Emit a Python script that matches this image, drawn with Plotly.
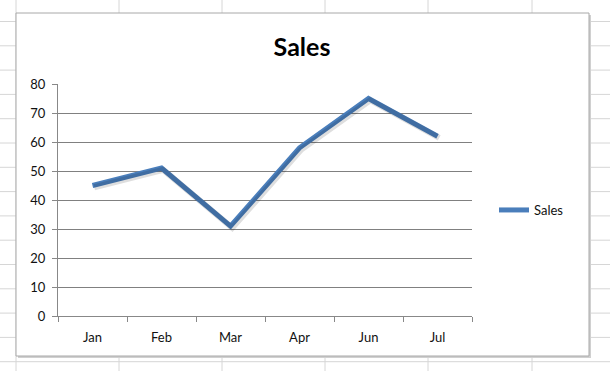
import plotly.graph_objects as go

# ---- data ----
months = ["Jan", "Feb", "Mar", "Apr", "Jun", "Jul"]
sales = [45, 51, 31, 58, 75, 62]
y_ticks = [0, 10, 20, 30, 40, 50, 60, 70, 80]

W, H = 610, 371
L, R, T, B = 58, 472, 84, 316  # plot area in pixels

def px(x):
    return (x - L) / (R - L)

def py(y):
    return (B - y) / (B - T)

shapes = []
grid_col = "#d6d6d6"
# spreadsheet horizontal lines
y0 = 21.5
while y0 < H:
    shapes.append(dict(type="line", xref="paper", yref="paper", layer="below",
                       x0=px(0), x1=px(W), y0=py(y0), y1=py(y0),
                       line=dict(color=grid_col, width=1)))
    y0 += 24.3
# spreadsheet vertical lines
for xv in [16, 119, 222, 325, 428, 532]:
    shapes.append(dict(type="line", xref="paper", yref="paper", layer="below",
                       x0=px(xv), x1=px(xv), y0=py(0), y1=py(H),
                       line=dict(color=grid_col, width=1)))
# chart box shadow + box
shapes.append(dict(type="rect", xref="paper", yref="paper", layer="below",
                   x0=px(18), x1=px(591), y0=py(358), y1=py(15),
                   fillcolor="#d0d0d0", line=dict(width=0)))
shapes.append(dict(type="rect", xref="paper", yref="paper", layer="below",
                   x0=px(16), x1=px(589), y0=py(356), y1=py(13),
                   fillcolor="white", line=dict(color="#a8a8a8", width=1)))

fig = go.Figure()
# soft shadow of line (offset via shifted overlay axes)
fig.add_trace(go.Scatter(x=months, y=sales, mode="lines", xaxis="x2", yaxis="y2",
                         line=dict(color="rgba(0,0,0,0.13)", width=6),
                         showlegend=False, hoverinfo="skip"))
fig.add_trace(go.Scatter(x=months, y=sales, mode="lines", name="Sales",
                         line=dict(color="#4A7EBB", width=5)))

font_main = "Lato, 'Open Sans', Arial, sans-serif"
fig.update_layout(
    width=W, height=H,
    margin=dict(l=L, r=W - R, t=T, b=H - B, pad=0),
    paper_bgcolor="white",
    plot_bgcolor="rgba(0,0,0,0)",
    shapes=shapes,
    title=dict(text="<b>Sales</b>", x=302 / W, xanchor="center",
               y=1 - 47 / H, yanchor="middle",
               font=dict(family=font_main, size=25, color="#000000")),
    font=dict(family=font_main, size=13, color="#111111"),
    xaxis=dict(type="category", range=[-0.5, 5.5], showgrid=False,
               showline=True, linecolor="#888888", linewidth=1,
               ticks="outside", ticklen=5, tickcolor="#888888",
               tickson="boundaries", zeroline=False, ticklabelstandoff=9,
               tickfont=dict(size=13, color="#111111")),
    yaxis=dict(range=[0, 80], tickvals=y_ticks, showgrid=True,
               gridcolor="#808080", gridwidth=1,
               showline=True, linecolor="#888888", linewidth=1,
               ticks="outside", ticklen=5, tickcolor="#888888",
               zeroline=False, ticklabelstandoff=4,
               tickfont=dict(size=13, color="#111111")),
    xaxis2=dict(type="category", range=[-0.5 - 0.025, 5.5 - 0.025],
                overlaying="x", visible=False),
    yaxis2=dict(range=[0.6, 80.6], overlaying="y", visible=False),
    legend=dict(x=px(494), y=py(210), xanchor="left", yanchor="middle",
                bgcolor="rgba(0,0,0,0)", font=dict(size=13, color="#111111"),
                itemwidth=30),
    showlegend=True,
)

fig.write_html("out.html", config={"displayModeBar": False},
               post_script="document.body.style.margin='0';document.body.style.overflow='hidden';")
